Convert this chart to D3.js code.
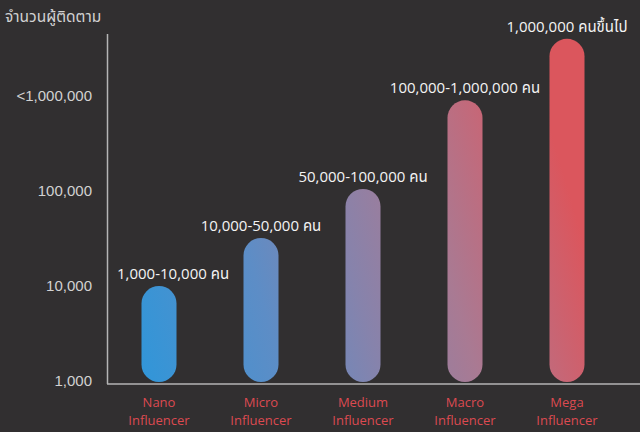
<!DOCTYPE html>
<html>
<head>
<meta charset="utf-8">
<script src="https://cdn.jsdelivr.net/npm/d3@7"></script>
<style>
	body { margin: 0; background: #312f30; }
	svg { display: block; font-family: "Open Sans", "Noto Sans Thai", "Noto Sans", "DejaVu Sans", sans-serif; }
</style>
</head>
<body>
<script>
const categories = ["Nano Influencer", "Micro Influencer", "Medium Influencer", "Macro Influencer", "Mega Influencer"];
const followers = [10000, 32000, 105000, 900000, 4000000];
const rangeLabels = ["1,000-10,000 คน", "10,000-50,000 คน", "50,000-100,000 คน", "100,000-1,000,000 คน", "1,000,000 คนขึ้นไป"];
const tickValues = [1000, 10000, 100000, 1000000];
const tickLabels = ["1,000", "10,000", "100,000", "<1,000,000"];
const yTitle = "จำนวนผู้ติดตาม";

const width = 640, height = 432;
const margin = ({ top: 34, right: 0, bottom: 48, left: 107 });

const svg = d3.select("body").append("svg")
	.attr("width", width)
	.attr("height", height);

svg.append("rect")
	.attr("width", width)
	.attr("height", height)
	.attr("fill", "#312f30");

const x = d3.scaleBand()
	.domain(categories)
	.range([108, 618]);

const y = d3.scaleLog()
	.domain([1000, 1000000])
	.range([381, 96]);

const barW = 35;

// one gradient shared by all bars, blue on the left to red on the right, tilted slightly upward
const grad = svg.append("defs").append("linearGradient")
	.attr("id", "barGrad")
	.attr("gradientUnits", "userSpaceOnUse")
	.attr("x1", x(categories[0]) + 32)
	.attr("y1", y(1000))
	.attr("x2", x(categories[4]) + 70)
	.attr("y2", y(1000) - 132);

grad.selectAll("stop")
	.data([["0%", "#3096d9"], ["30%", "#5d8dc6"], ["50%", "#8683ac"], ["70%", "#a97a93"], ["85%", "#c3697a"], ["100%", "#db565d"]])
	.enter()
	.append("stop")
	.attr("offset", d => d[0])
	.attr("stop-color", d => d[1]);

// axes
const yAxis = g => g
	.attr("transform", `translate(${margin.left},0)`)
	.call(d3.axisLeft(y).tickValues(tickValues).tickSize(0).tickPadding(15)
		.tickFormat((d, i) => tickLabels[i]))
	.call(g => g.select(".domain").remove())
	.call(g => g.selectAll("text")
		.attr("fill", "#d2d2d2")
		.attr("font-size", 15)
		.attr("font-family", null));

svg.append("g").call(yAxis);

svg.append("line")
	.attr("stroke", "#b5b5b5")
	.attr("stroke-width", 1.5)
	.attr("x1", margin.left + 0.5)
	.attr("x2", margin.left + 0.5)
	.attr("y1", margin.top)
	.attr("y2", height - margin.bottom);

svg.append("line")
	.attr("stroke", "#b5b5b5")
	.attr("stroke-width", 1.5)
	.attr("x1", margin.left)
	.attr("x2", width)
	.attr("y1", height - margin.bottom)
	.attr("y2", height - margin.bottom);

svg.append("text")
	.attr("x", 5)
	.attr("y", 22)
	.attr("fill", "#d2d2d2")
	.attr("font-size", 15.5)
	.text(yTitle);

// bars
const bars = svg.append("g")
	.selectAll("g")
	.data(categories.map((c, i) => ({ c, v: followers[i], label: rangeLabels[i] })))
	.enter()
	.append("g");

bars.append("rect")
	.attr("fill", "url(#barGrad)")
	.attr("x", d => x(d.c) + x.bandwidth() / 2 - barW / 2)
	.attr("width", barW)
	.attr("rx", barW / 2)
	.attr("y", d => y(d.v))
	.attr("height", d => y(1000) + 1 - y(d.v));

bars.append("text")
	.attr("fill", "#f4f4f4")
	.attr("font-size", 15)
	.attr("text-anchor", "middle")
	.attr("x", d => x(d.c) + x.bandwidth() / 2)
	.attr("y", d => y(d.v) - 7)
	.text(d => d.label)
	.each(function (d) {
		// keep the label clear of the y axis
		const w = this.getComputedTextLength();
		const cx = x(d.c) + x.bandwidth() / 2;
		d3.select(this).attr("x", Math.max(cx, margin.left + 10 + w / 2));
	});

// category names, two rows
[0, 1].forEach(row => {
	svg.append("g")
		.selectAll("text")
		.data(categories)
		.enter()
		.append("text")
		.attr("fill", "#dc4a50")
		.attr("font-size", 13)
		.attr("text-anchor", "middle")
		.attr("x", d => x(d) + x.bandwidth() / 2)
		.attr("y", 407 + row * 18)
		.text(d => d.split(" ")[row]);
});
</script>
</body>
</html>
